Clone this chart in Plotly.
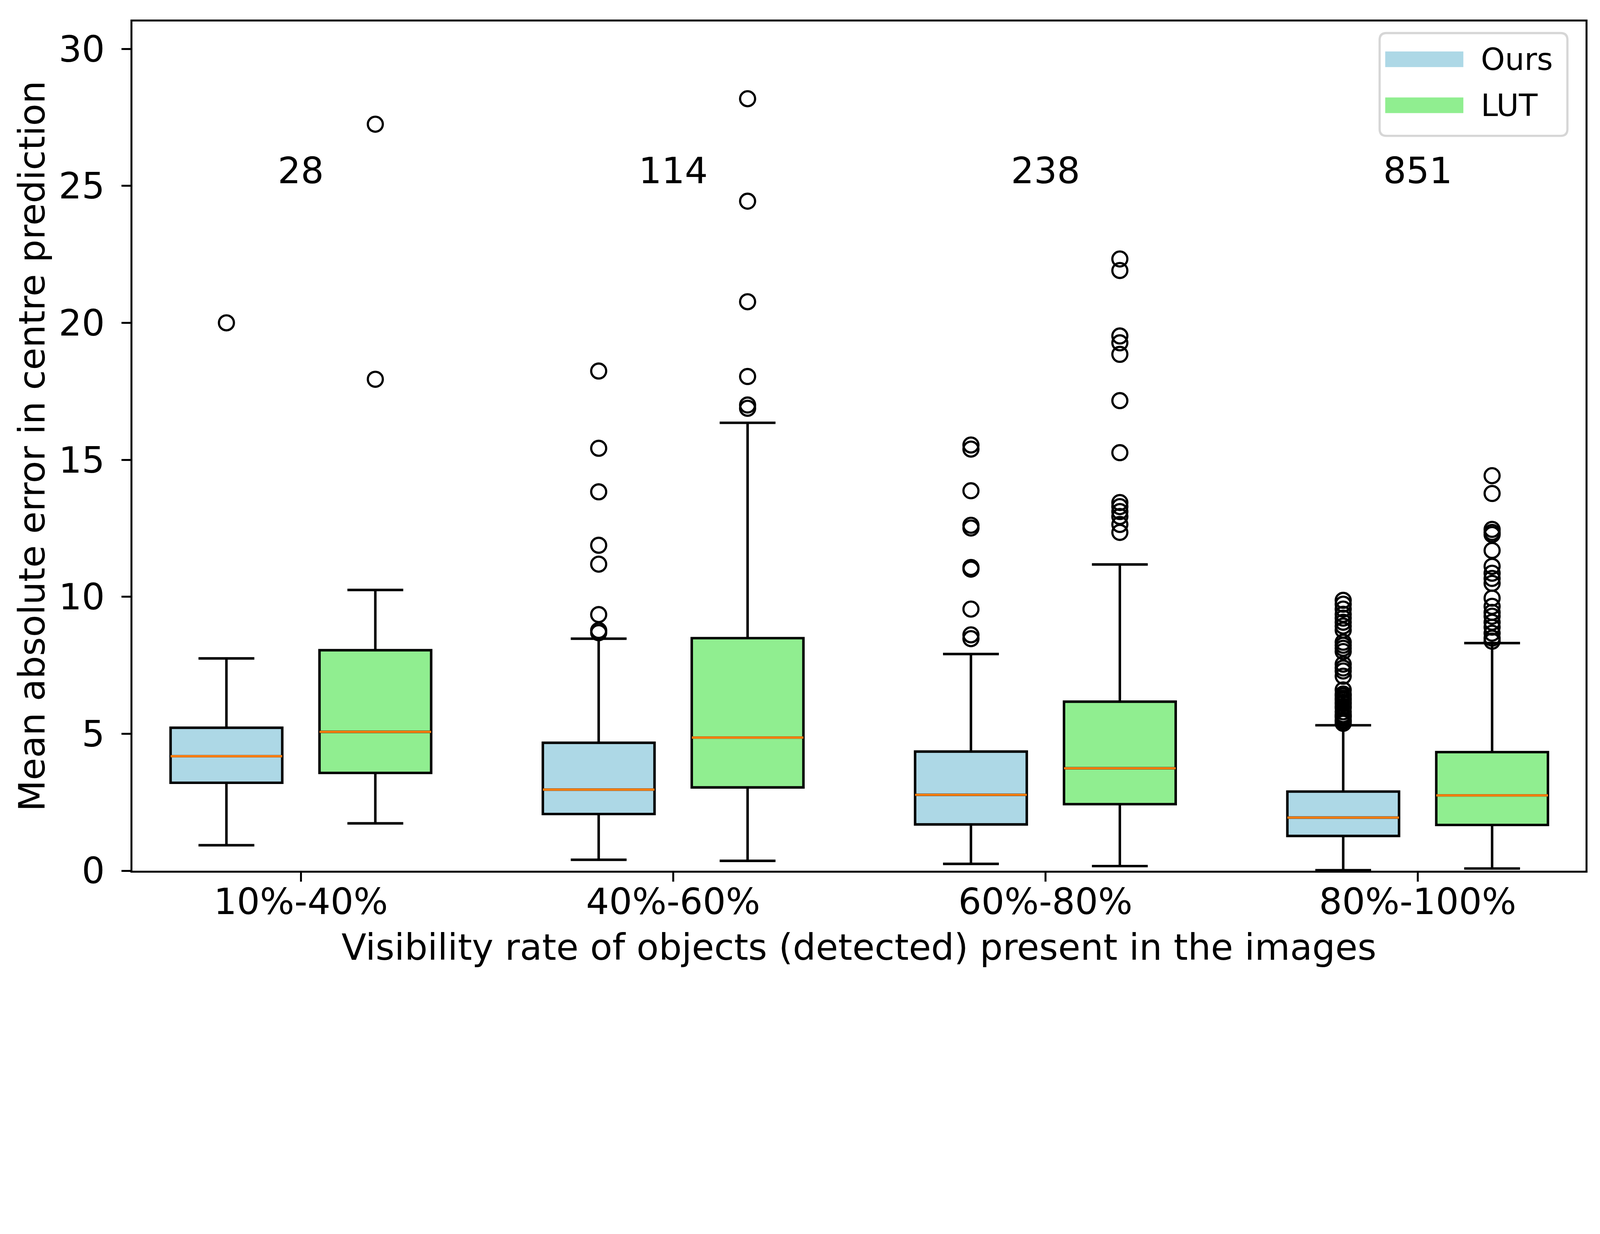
import plotly.graph_objects as go

# ---------------- data ----------------
categories = ["10%-40%", "40%-60%", "60%-80%", "80%-100%"]
counts = ["28", "114", "238", "851"]
count_y = 25

ours_q1 = [3.21, 2.07, 1.69, 1.27]
ours_median = [4.18, 2.96, 2.77, 1.94]
ours_q3 = [5.22, 4.67, 4.35, 2.89]
ours_low = [0.93, 0.40, 0.25, 0.02]
ours_high = [7.75, 8.47, 7.91, 5.31]

lut_q1 = [3.57, 3.04, 2.43, 1.67]
lut_median = [5.07, 4.86, 3.74, 2.75]
lut_q3 = [8.05, 8.49, 6.17, 4.33]
lut_low = [1.73, 0.36, 0.17, 0.08]
lut_high = [10.25, 16.35, 11.18, 8.31]

ours_outliers = [
    [20.0],
    [18.24, 15.42, 13.83, 11.88, 11.19, 9.35, 8.77, 8.69],
    [15.54, 15.39, 13.87, 12.61, 12.51, 11.07, 11.01, 9.55, 8.61, 8.47],
    [9.87, 9.73, 9.55, 9.36, 9.22, 9.07, 8.93, 8.78, 8.34, 8.23, 8.12, 8.0,
     7.54, 7.40, 7.29, 7.10, 6.60, 6.45, 6.38, 6.30, 6.23, 6.15, 6.09, 6.0,
     5.94, 5.80, 5.70, 5.65, 5.60, 5.50, 5.45, 5.38],
]
lut_outliers = [
    [27.25, 17.94],
    [28.18, 24.44, 20.77, 18.04, 17.00, 16.88],
    [22.33, 21.91, 19.52, 19.27, 18.85, 17.16, 15.26, 13.44, 13.29, 13.11,
     12.93, 12.64, 12.35],
    [14.42, 13.77, 12.46, 12.35, 12.27, 11.69, 11.11, 10.86, 10.67, 10.49,
     9.95, 9.65, 9.43, 9.29, 9.07, 8.89, 8.67, 8.49, 8.38],
]

series_names = ["Ours", "LUT"]
series_colors = ["#add8e6", "#90ee90"]

# ---------------- layout constants ----------------
S = 0.8  # CSS px per screenshot px
W, H = round(5125 * S), round(3159 * S)
ML, MR, MT, MB = 414 * S, 61 * S, 59 * S, 382 * S
FONT = "DejaVu Sans"
LW = 8 * S
FS = 116 * S
group_pos = [1, 2, 3, 4]
offset = 0.2
box_w = 0.3

fig = go.Figure()


def add_group(pos, q1, med, q3, lo, hi, color, outliers):
    fig.add_trace(go.Box(
        x=pos, q1=q1, median=med, q3=q3, lowerfence=lo, upperfence=hi,
        width=box_w, whiskerwidth=0.5, fillcolor=color,
        line=dict(color="black", width=LW), boxpoints=False,
        showlegend=False, hoverinfo="skip",
    ))
    # median line overlay (orange)
    fig.add_trace(go.Box(
        x=pos, q1=med, median=med, q3=med, lowerfence=med, upperfence=med,
        width=box_w, whiskerwidth=0, fillcolor="rgba(0,0,0,0)",
        line=dict(color="#ff7f0e", width=7 * S), boxpoints=False,
        showlegend=False, hoverinfo="skip",
    ))
    xs, ys = [], []
    for p, vals in zip(pos, outliers):
        xs += [p] * len(vals)
        ys += vals
    fig.add_trace(go.Scatter(
        x=xs, y=ys, mode="markers", showlegend=False, hoverinfo="skip",
        marker=dict(symbol="circle-open", size=48 * S, color="black",
                    line=dict(width=7 * S, color="black")),
    ))


ours_pos = [g - offset for g in group_pos]
lut_pos = [g + offset for g in group_pos]
add_group(ours_pos, ours_q1, ours_median, ours_q3, ours_low, ours_high,
          series_colors[0], ours_outliers)
add_group(lut_pos, lut_q1, lut_median, lut_q3, lut_low, lut_high,
          series_colors[1], lut_outliers)

annotations = []
for g, c in zip(group_pos, counts):
    annotations.append(dict(x=g, y=count_y, xref="x", yref="y", text=c,
                            showarrow=False, xanchor="center", yanchor="bottom",
                            yshift=-22 * S,
                            font=dict(family=FONT, size=FS, color="black")))

# ---------------- manual legend ----------------
pw = W - ML - MR
ph = H - MT - MB


def px_x(px):
    return (px * S - ML) / pw


def px_y(py):
    return (H - MB - py * S) / ph


dx, dy = -12, -10
x0, x1 = px_x(4417 + dx), px_x(5018 + dx)
y0, y1 = px_y(435 + dy), px_y(106 + dy)
rx, ry = 22 * S / pw, 22 * S / ph
path = (f"M {x0+rx},{y0} L {x1-rx},{y0} Q {x1},{y0} {x1},{y0+ry} "
        f"L {x1},{y1-ry} Q {x1},{y1} {x1-rx},{y1} L {x0+rx},{y1} "
        f"Q {x0},{y1} {x0},{y1-ry} L {x0},{y0+ry} Q {x0},{y0} {x0+rx},{y0} Z")
shapes = [dict(type="path", path=path, xref="paper", yref="paper",
               fillcolor="white", line=dict(color="#d6d6d6", width=7 * S))]
leg_centers = [190, 337]
for name, color, cy in zip(series_names, series_colors, leg_centers):
    shapes.append(dict(type="rect", xref="paper", yref="paper",
                       x0=px_x(4435 + dx), x1=px_x(4685 + dx),
                       y0=px_y(cy + 25 + dy), y1=px_y(cy - 25 + dy),
                       fillcolor=color, line=dict(width=0)))
    annotations.append(dict(x=px_x(4738 + dx), y=px_y(cy + dy), xref="paper",
                            yref="paper", text=name, showarrow=False,
                            xanchor="left", yanchor="middle",
                            font=dict(family=FONT, size=98 * S, color="black")))

fig.update_layout(
    width=W, height=H,
    margin=dict(l=ML, r=MR, t=MT, b=MB, pad=0),
    paper_bgcolor="white", plot_bgcolor="white",
    boxmode="overlay", showlegend=False,
    font=dict(family=FONT, size=FS, color="black"),
    annotations=annotations, shapes=shapes,
)
fig.update_xaxes(
    range=[0.5475, 4.451], tickmode="array", tickvals=group_pos,
    ticktext=categories, ticks="outside", ticklen=29 * S, tickwidth=6 * S,
    tickcolor="black", showline=True, linewidth=6 * S, linecolor="black",
    mirror=True, showgrid=False, zeroline=False, ticklabelstandoff=-28,
    tickfont=dict(family=FONT, size=FS),
    title=dict(text="Visibility rate of objects (detected) present in the images",
               font=dict(family=FONT, size=FS), standoff=round(40 * S)),
)
fig.update_yaxes(
    range=[0, 31], tickmode="array", tickvals=[0, 5, 10, 15, 20, 25, 30],
    ticks="outside", ticklen=29 * S, tickwidth=6 * S, tickcolor="black",
    showline=True, linewidth=6 * S, linecolor="black", mirror=True,
    showgrid=False, zeroline=False, ticklabelstandoff=round(30 * S),
    tickfont=dict(family=FONT, size=FS),
    title=dict(text="Mean absolute error in centre prediction",
               font=dict(family=FONT, size=FS), standoff=6),
)

fig.write_html("out.html")
